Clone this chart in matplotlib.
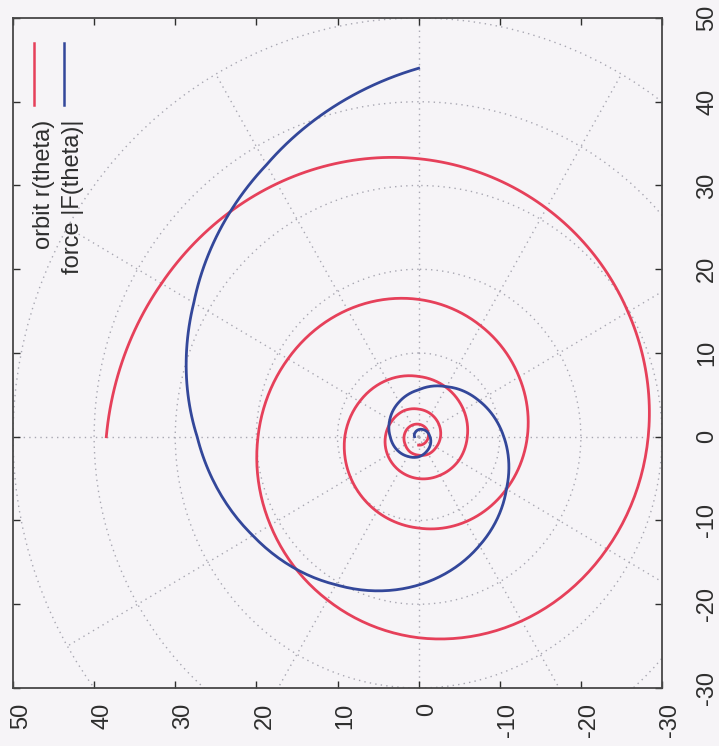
import numpy as np
import matplotlib
matplotlib.use("Agg")
import matplotlib.pyplot as plt
from matplotlib.transforms import blended_transform_factory, ScaledTranslation
from matplotlib.lines import Line2D

# ── Data (polar angle in degrees, the page is turned 90°) ──
orbit_theta = np.arange(90, -1621, -30)      # outer end inward, clockwise
orbit_r = [38.5, 36.6, 34.9, 33.2, 31.5, 29.8, 28.3, 26.8, 25.4, 24.0,
           22.5, 21.1, 19.8, 18.6, 17.5, 16.4, 15.3, 14.3, 13.4, 12.5,
           11.7, 10.9, 10.3, 9.7, 9.1, 8.4, 7.8, 7.2, 6.8, 6.4,
           6.0, 5.7, 5.3, 5.0, 4.7, 4.4, 4.1, 3.8, 3.6, 3.3,
           3.1, 2.9, 2.7, 2.5, 2.4, 2.2, 2.1, 1.9, 1.8, 1.7,
           1.6, 1.5, 1.4, 1.3, 1.2, 1.1, 1.05, 1.0]

force_theta = np.arange(0, 811, 30)          # outer end inward, anticlockwise
force_r = [44.0, 37.5, 32.0, 27.3, 23.6, 20.4, 17.7, 15.0, 12.5, 10.5,
           8.6, 6.9, 5.6, 4.8, 4.1, 3.5, 3.1, 2.7, 2.4, 2.0,
           1.7, 1.4, 1.2, 1.0, 0.85, 0.7, 0.6, 0.5]

ticks = [50, 40, 30, 20, 10, 0, -10, -20, -30]
grid_r = [10, 20, 30, 40, 50]
grid_spokes = list(range(0, 360, 30))
labels = ["orbit r(theta)", "force |F(theta)|"]

# ── Style ─────────────────────────────────────────────────────────────
BG = "#f6f4f7"
RED = "#e6405a"
BLUE = "#33479a"
GRID = "#a8a7b2"
INK = "#2e2e2e"
FONT = "Liberation Sans"
FS = 17

W, H = 719, 746
L, R, T, B = 13, 662, 18, 688          # frame in pixels

fig = plt.figure(figsize=(W / 100, H / 100), dpi=100)
fig.patch.set_facecolor(BG)

ax = fig.add_axes([L / W, 1 - B / H, (R - L) / W, (B - T) / H])
ax.set_xlim(50, -30)     # original y axis, runs right-to-left
ax.set_ylim(-30, 50)     # original x axis, runs upward
ax.patch.set_visible(False)
ax.set_zorder(3)
ax.set_xticks(ticks)
ax.set_yticks(ticks)
ax.tick_params(direction="in", length=5, width=1, color=INK,
               top=True, right=True, labelbottom=False, labelleft=False)
for sp in ax.spines.values():
    sp.set_color("#474747")
    sp.set_linewidth(1.3)

# polar overlay whose centre sits on (0, 0) of the frame
x0, y0, w, h = ax.get_position().bounds
pax = fig.add_axes([x0, y0 - 0.25 * h, 1.25 * w, 1.25 * h], projection="polar")
pax.set_zorder(2)
pax.set_aspect("auto")
pax.set_theta_zero_location("N")
pax.set_theta_direction(1)
pax.axis("off")
pax.patch.set_visible(False)


def smooth(line, steps=24):
    # let the polar transform bend the segments between samples
    line.get_path()._interpolation_steps = steps
    line.set_data(*line.get_data())
    line.set_clip_path(ax.patch)


# polar grid
for rr in grid_r:
    ln, = pax.plot(np.deg2rad([0, 90, 180, 270, 360]), [rr] * 5, color=GRID,
                   lw=1.0, linestyle=(0, (1, 3)))
    smooth(ln)
for a in grid_spokes:
    ln, = pax.plot(np.deg2rad([a, a]), [0, 50], color=GRID, lw=1.0,
                   linestyle=(0, (1, 3)))
    ln.set_clip_path(ax.patch)

# curves
ln, = pax.plot(np.deg2rad(orbit_theta), orbit_r, color=RED, lw=2.0)
smooth(ln)
ln, = pax.plot(np.deg2rad(force_theta), force_r, color=BLUE, lw=2.0)
smooth(ln)
pax.set_ylim(0, 50)

# tick labels (rotated with the page)
px = lambda dx, dy: ScaledTranslation(dx / 100, dy / 100, fig.dpi_scale_trans)
bot = blended_transform_factory(ax.transData, ax.transAxes)
rgt = blended_transform_factory(ax.transAxes, ax.transData)
for v in ticks:
    ax.text(v, 0, str(v), transform=bot + px(-3, -15), rotation=90,
            ha="left", va="top", fontsize=FS, family=FONT, color=INK)
    ax.text(1, v, str(v), transform=rgt + px(34, 0), rotation=90,
            ha="left", va="center", fontsize=FS, family=FONT, color=INK)

# key, top-left corner
for lab, col, xb, xl in zip(labels, [RED, BLUE], [50, 79], [33.5, 63.5]):
    fig.text(xb / W, 1 - 120 / H, lab, rotation=90, rotation_mode="anchor",
             ha="right", va="baseline", fontsize=FS, family=FONT, color=INK)
    fig.add_artist(Line2D([xl / W, xl / W], [1 - 43 / H, 1 - 105 / H],
                          transform=fig.transFigure, color=col, lw=1.8))

fig.savefig("out.png", dpi=100, facecolor=BG)
